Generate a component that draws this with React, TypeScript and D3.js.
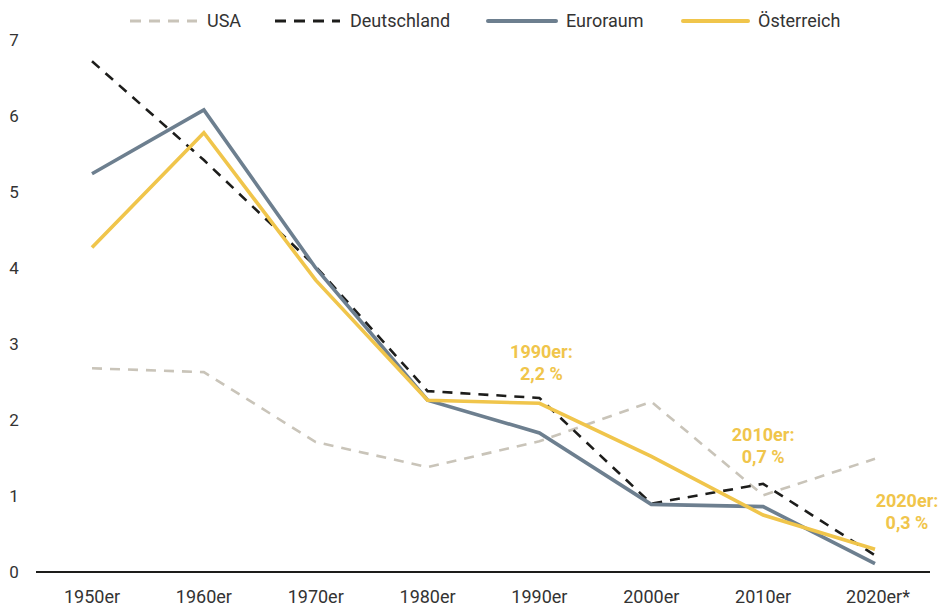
import React from "react";
import * as d3 from "d3";

// Jahrzehnte und Werte (Prozent)
const decades = ["1950er", "1960er", "1970er", "1980er", "1990er", "2000er", "2010er", "2020er*"];
const usa = [2.68, 2.63, 1.71, 1.38, 1.72, 2.24, 1.01, 1.49];
const deutschland = [6.72, 5.42, 4.02, 2.38, 2.29, 0.9, 1.16, 0.22];
const euroraum = [5.24, 6.08, 4.0, 2.26, 1.83, 0.89, 0.86, 0.11];
const oesterreich = [4.27, 5.78, 3.84, 2.26, 2.22, 1.52, 0.75, 0.3];
const yTicks = [0, 1, 2, 3, 4, 5, 6, 7];

const notes = [
  { decade: "1990er", lines: ["1990er:", "2,2 %"] },
  { decade: "2010er", lines: ["2010er:", "0,7 %"] },
  { decade: "2020er*", lines: ["2020er:", "0,3 %"] },
];

const font = "Roboto, 'DejaVu Sans', sans-serif";
const textColor = "#333333";

const series = [
  { name: "USA", values: usa, color: "#c9c4b9", width: 2.6, dash: "10 8" },
  { name: "Deutschland", values: deutschland, color: "#1d1d1b", width: 2.6, dash: "10 8" },
  { name: "Euroraum", values: euroraum, color: "#6d7f8f", width: 3.6, dash: "" },
  { name: "Österreich", values: oesterreich, color: "#f0c54b", width: 3.6, dash: "" },
];

// Legendenplatz (Linienanfang, Textanfang)
const legendPos = [
  [130, 207],
  [275, 350],
  [488, 566],
  [683, 758],
];
// Beschriftung: Verschiebung relativ zum Punkt
const noteOffsets = [
  { dx: 2, y: 358 },
  { dx: 0, y: 441 },
  { dx: 32, y: 507 },
];

export default function App() {
  const width = 939;
  const height = 608;

  const x = d3.scalePoint<string>().domain(decades).range([92, 875]);
  const y = d3.scaleLinear().domain([0, 7]).range([572, 40]);

  const line = d3
    .line<number>()
    .x((_, i) => x(decades[i]) as number)
    .y((d) => y(d));

  return (
    <svg width={width} height={height} style={{ position: "absolute", left: 0, top: 0, background: "#fff" }}>
      {yTicks.map((t) => (
        <text
          key={t}
          x={14}
          y={y(t)}
          dy="0.35em"
          textAnchor="middle"
          fontFamily={font}
          fontSize={17}
          fill={textColor}
        >
          {t}
        </text>
      ))}

      <line x1={36} x2={930} y1={y(0)} y2={y(0)} stroke="#1d1d1b" strokeWidth={1.8} />

      {decades.map((d) => (
        <text
          key={d}
          x={(x(d) as number) + (d.endsWith("*") ? 3 : 0)}
          y={603}
          textAnchor="middle"
          fontFamily={font}
          fontSize={18}
          fill={textColor}
        >
          {d}
        </text>
      ))}

      {series.map((s) => (
        <path
          key={s.name}
          d={line(s.values) || ""}
          fill="none"
          stroke={s.color}
          strokeWidth={s.width}
          strokeDasharray={s.dash || undefined}
          strokeLinejoin="miter"
        />
      ))}

      {notes.map((n, i) => (
        <text
          key={n.decade}
          textAnchor="middle"
          fontFamily={font}
          fontSize={18}
          fontWeight="bold"
          fill="#f0c54b"
        >
          {n.lines.map((l, j) => (
            <tspan key={j} x={(x(n.decade) as number) + noteOffsets[i].dx} y={noteOffsets[i].y + j * 22}>
              {l}
            </tspan>
          ))}
        </text>
      ))}

      {series.map((s, i) => (
        <g key={s.name}>
          <line
            x1={legendPos[i][0]}
            x2={legendPos[i][1] - 10}
            y1={21}
            y2={21}
            stroke={s.color}
            strokeWidth={s.dash ? 2.8 : 4}
            strokeDasharray={s.dash ? "11 8" : undefined}
            strokeLinecap={s.dash ? "butt" : "round"}
          />
          <text
            x={legendPos[i][1]}
            y={21}
            dy="0.35em"
            fontFamily={font}
            fontSize={18}
            fill={textColor}
          >
            {s.name}
          </text>
        </g>
      ))}
    </svg>
  );
}
